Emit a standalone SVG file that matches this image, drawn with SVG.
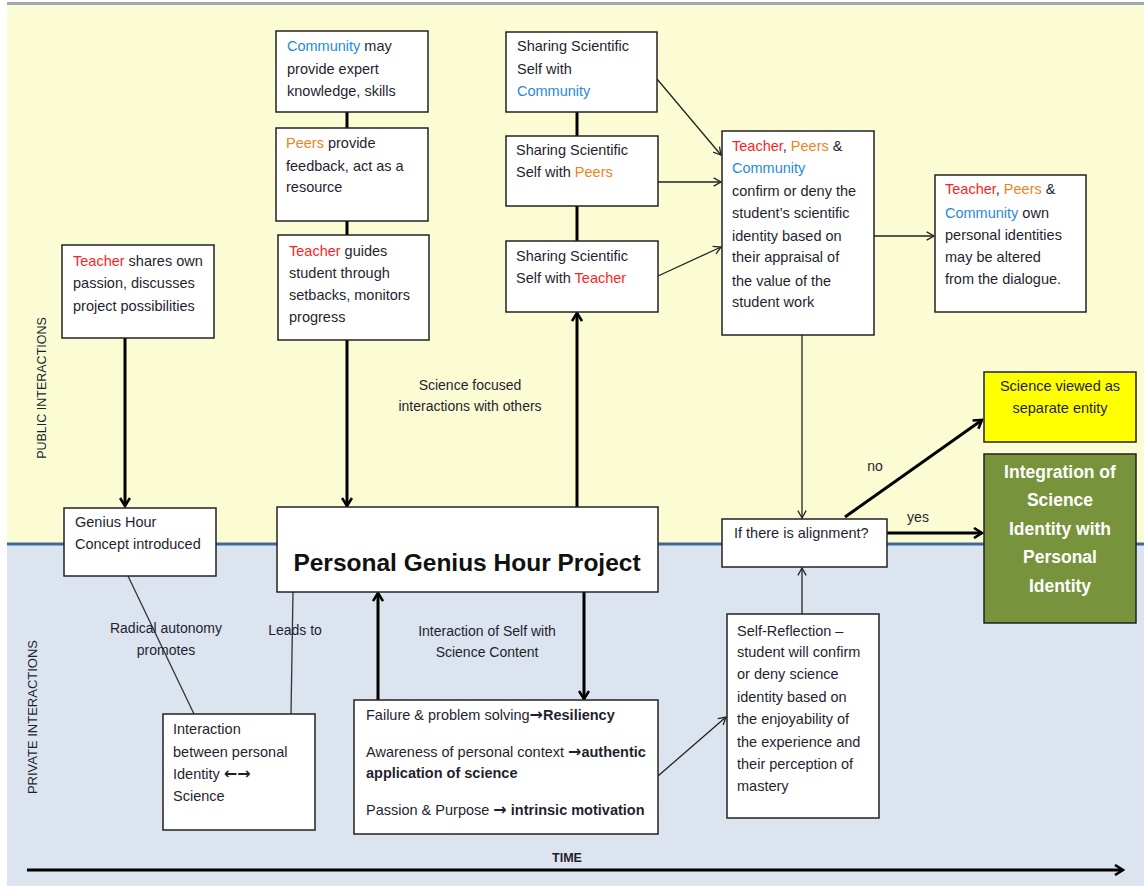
<svg xmlns="http://www.w3.org/2000/svg" width="1144" height="886" viewBox="0 0 1144 886">
<defs>
<style>
.box{fill:#fff;stroke:#222;stroke-width:1.5}
.t{font-family:"Liberation Sans",Arial,sans-serif;font-size:14.5px;fill:#1f1f2f}
.lbl{font-family:"Liberation Sans",Arial,sans-serif;font-size:14px;fill:#1f1f2f}
.b{font-weight:bold}
.ar{font-family:"DejaVu Sans",sans-serif;font-weight:bold;font-size:16px}
.red{fill:#ff1f1f}
.org{fill:#ee8422}
.blu{fill:#1f8bdb}
.thick{stroke:#000;stroke-width:3;fill:none}
.thin{stroke:#222;stroke-width:1.3;fill:none}
.plain{stroke:#333;stroke-width:1.3;fill:none}
</style>
<marker id="ah" viewBox="0 0 12 12" refX="10" refY="6" markerWidth="12" markerHeight="12" markerUnits="userSpaceOnUse" orient="auto">
<path d="M2,1 L10,6 L2,11" fill="none" stroke="#000" stroke-width="2.6"/>
</marker>
<marker id="as" viewBox="0 0 12 12" refX="10" refY="6" markerWidth="11" markerHeight="11" markerUnits="userSpaceOnUse" orient="auto">
<path d="M2,1.5 L10,6 L2,10.5" fill="none" stroke="#222" stroke-width="1.4"/>
</marker>
</defs>

<!-- background -->
<rect x="0" y="0" width="1144" height="886" fill="#ffffff"/>
<rect x="7" y="5" width="1137" height="539" fill="#fcfcd4"/>
<rect x="7" y="544" width="1137" height="342" fill="#dce4f0"/>
<rect x="7" y="2" width="1137" height="3" fill="#a3a9b0"/>
<line x1="7" y1="544" x2="1144" y2="544" stroke="#40679a" stroke-width="3"/>

<text class="lbl" transform="translate(46,388) rotate(-90)" text-anchor="middle" style="font-size:12.5px">PUBLIC INTERACTIONS</text>
<text class="lbl" transform="translate(37,717) rotate(-90)" text-anchor="middle" style="font-size:13px">PRIVATE INTERACTIONS</text>

<!-- connectors -->
<g id="connectors">
<line class="thick" x1="347" y1="112" x2="347" y2="128"/>
<line class="thick" x1="347" y1="221" x2="347" y2="235"/>
<line class="thick" x1="577" y1="112" x2="577" y2="136"/>
<line class="thick" x1="577" y1="206" x2="577" y2="241"/>
<line class="thick" x1="125" y1="338" x2="125" y2="506" marker-end="url(#ah)"/>
<line class="thick" x1="347" y1="340" x2="347" y2="506" marker-end="url(#ah)"/>
<line class="thick" x1="577" y1="507" x2="577" y2="313" marker-end="url(#ah)"/>
<line class="thick" x1="378" y1="700" x2="378" y2="593" marker-end="url(#ah)"/>
<line class="thick" x1="584" y1="592" x2="584" y2="699" marker-end="url(#ah)"/>
<line class="thin" x1="657" y1="79" x2="721" y2="155" marker-end="url(#as)"/>
<line class="thin" x1="658" y1="182" x2="721" y2="182" marker-end="url(#as)"/>
<line class="thin" x1="658" y1="276" x2="721" y2="247" marker-end="url(#as)"/>
<line class="thin" x1="874" y1="236" x2="934" y2="236" marker-end="url(#as)"/>
<line class="thin" x1="802" y1="335" x2="802" y2="518" marker-end="url(#as)"/>
<line class="thin" x1="802" y1="614" x2="802" y2="568" marker-end="url(#as)"/>
<line class="thin" x1="658" y1="776" x2="726" y2="717" marker-end="url(#as)"/>
<line class="plain" x1="128" y1="576" x2="194" y2="714"/>
<line class="plain" x1="293" y1="592" x2="291" y2="714"/>
<line class="thick" x1="845" y1="517" x2="982" y2="420" marker-end="url(#ah)"/>
<line class="thick" x1="887" y1="533" x2="982" y2="533" marker-end="url(#ah)"/>
<line class="thick" x1="27" y1="870" x2="1123" y2="870" marker-end="url(#ah)"/>
<text class="lbl" x="875" y="471" text-anchor="middle">no</text>
<text class="lbl" x="918" y="522" text-anchor="middle">yes</text>
<text class="lbl" x="166" y="633" text-anchor="middle">Radical autonomy</text>
<text class="lbl" x="166" y="655" text-anchor="middle">promotes</text>
<text class="lbl" x="295" y="635" text-anchor="middle">Leads to</text>
<text class="lbl" x="487" y="636" text-anchor="middle">Interaction of Self with</text>
<text class="lbl" x="487" y="657" text-anchor="middle">Science Content</text>
<text class="lbl" x="470" y="390" text-anchor="middle">Science focused</text>
<text class="lbl" x="470" y="411" text-anchor="middle">interactions with others</text>
<text class="lbl b" x="567" y="862" text-anchor="middle" style="font-size:12.5px">TIME</text>
</g>

<g id="community-expert">
<rect class="box" x="276" y="31" width="152" height="81"/>
<text class="t" x="287" y="51"><tspan class="blu">Community</tspan> may</text>
<text class="t" x="287" y="74">provide expert</text>
<text class="t" x="287" y="96">knowledge, skills</text>
</g>

<g id="peers-feedback">
<rect class="box" x="276" y="128" width="152" height="93"/>
<text class="t" x="286" y="148"><tspan class="org">Peers</tspan> provide</text>
<text class="t" x="286" y="171">feedback, act as a</text>
<text class="t" x="286" y="192">resource</text>
</g>

<g id="teacher-guides">
<rect class="box" x="278" y="235" width="151" height="105"/>
<text class="t" x="289" y="256"><tspan class="red">Teacher</tspan> guides</text>
<text class="t" x="289" y="278">student through</text>
<text class="t" x="289" y="300">setbacks, monitors</text>
<text class="t" x="289" y="322">progress</text>
</g>

<g id="share-community">
<rect class="box" x="506" y="32" width="151" height="80"/>
<text class="t" x="517" y="51">Sharing Scientific</text>
<text class="t" x="517" y="74">Self with</text>
<text class="t" x="517" y="96"><tspan class="blu">Community</tspan></text>
</g>

<g id="share-peers">
<rect class="box" x="506" y="136" width="152" height="70"/>
<text class="t" x="516" y="155">Sharing Scientific</text>
<text class="t" x="516" y="177">Self with <tspan class="org">Peers</tspan></text>
</g>

<g id="share-teacher">
<rect class="box" x="506" y="241" width="152" height="71"/>
<text class="t" x="516" y="261">Sharing Scientific</text>
<text class="t" x="516" y="283">Self with <tspan class="red">Teacher</tspan></text>
</g>

<g id="confirm-deny">
<rect class="box" x="722" y="131" width="152" height="204"/>
<text class="t" x="732" y="151"><tspan class="red">Teacher</tspan>, <tspan class="org">Peers</tspan> &amp;</text>
<text class="t" x="732" y="173"><tspan class="blu">Community</tspan></text>
<text class="t" x="732" y="196">confirm or deny the</text>
<text class="t" x="732" y="218">student’s scientific</text>
<text class="t" x="732" y="241">identity based on</text>
<text class="t" x="732" y="262">their appraisal of</text>
<text class="t" x="732" y="286">the value of the</text>
<text class="t" x="732" y="307">student work</text>
</g>

<g id="own-identities">
<rect class="box" x="935" y="175" width="151" height="137"/>
<text class="t" x="945" y="194"><tspan class="red">Teacher</tspan>, <tspan class="org">Peers</tspan> &amp;</text>
<text class="t" x="945" y="218"><tspan class="blu">Community</tspan> own</text>
<text class="t" x="945" y="240">personal identities</text>
<text class="t" x="945" y="262">may be altered</text>
<text class="t" x="945" y="284">from the dialogue.</text>
</g>

<g id="teacher-shares">
<rect class="box" x="62" y="245" width="152" height="93"/>
<text class="t" x="73" y="266"><tspan class="red">Teacher</tspan> shares own</text>
<text class="t" x="73" y="288">passion, discusses</text>
<text class="t" x="73" y="311">project possibilities</text>
</g>

<g id="genius-hour-concept">
<rect class="box" x="64" y="508" width="152" height="68"/>
<text class="t" x="75" y="527">Genius Hour</text>
<text class="t" x="75" y="549">Concept introduced</text>
</g>

<g id="personal-project">
<rect class="box" x="277" y="507" width="381" height="85"/>
<text class="t b" x="467" y="571" text-anchor="middle" style="font-size:24.5px;fill:#111">Personal Genius Hour Project</text>
</g>

<g id="interaction-identity">
<rect class="box" x="163" y="714" width="152" height="116"/>
<text class="t" x="173" y="734">Interaction</text>
<text class="t" x="173" y="757">between personal</text>
<text class="t" x="173" y="779">Identity <tspan class="ar">←→</tspan></text>
<text class="t" x="173" y="801">Science</text>
</g>

<g id="outcomes">
<rect class="box" x="354" y="700" width="304" height="134"/>
<text class="t" x="366" y="720">Failure &amp; problem solving<tspan class="ar">→</tspan><tspan class="b">Resiliency</tspan></text>
<text class="t" x="366" y="757">Awareness of personal context <tspan class="ar">→</tspan><tspan class="b">authentic</tspan></text>
<text class="t b" x="366" y="778">application of science</text>
<text class="t" x="366" y="815">Passion &amp; Purpose <tspan class="ar">→</tspan> <tspan class="b">intrinsic motivation</tspan></text>
</g>

<g id="self-reflection">
<rect class="box" x="727" y="614" width="152" height="204"/>
<text class="t" x="737" y="636">Self-Reflection –</text>
<text class="t" x="737" y="657">student will confirm</text>
<text class="t" x="737" y="679">or deny science</text>
<text class="t" x="737" y="702">identity based on</text>
<text class="t" x="737" y="724">the enjoyability of</text>
<text class="t" x="737" y="747">the experience and</text>
<text class="t" x="737" y="769">their perception of</text>
<text class="t" x="737" y="791">mastery</text>
</g>

<g id="alignment">
<rect class="box" x="722" y="519" width="165" height="48"/>
<text class="t" x="734" y="538">If there is alignment?</text>
</g>

<g id="separate-entity">
<rect x="984" y="372" width="152" height="70" fill="#ffff00" stroke="#222" stroke-width="1.5"/>
<text class="t" x="1060" y="391" text-anchor="middle">Science viewed as</text>
<text class="t" x="1060" y="413" text-anchor="middle">separate entity</text>
</g>

<g id="integration">
<rect x="984" y="454" width="152" height="169" fill="#77933c" stroke="#222" stroke-width="1.5"/>
<text class="t b" x="1060" y="478" text-anchor="middle" style="font-size:17.5px;fill:#fff">Integration of</text>
<text class="t b" x="1060" y="506" text-anchor="middle" style="font-size:17.5px;fill:#fff">Science</text>
<text class="t b" x="1060" y="535" text-anchor="middle" style="font-size:17.5px;fill:#fff">Identity with</text>
<text class="t b" x="1060" y="563" text-anchor="middle" style="font-size:17.5px;fill:#fff">Personal</text>
<text class="t b" x="1060" y="592" text-anchor="middle" style="font-size:17.5px;fill:#fff">Identity</text>
</g>
</svg>
